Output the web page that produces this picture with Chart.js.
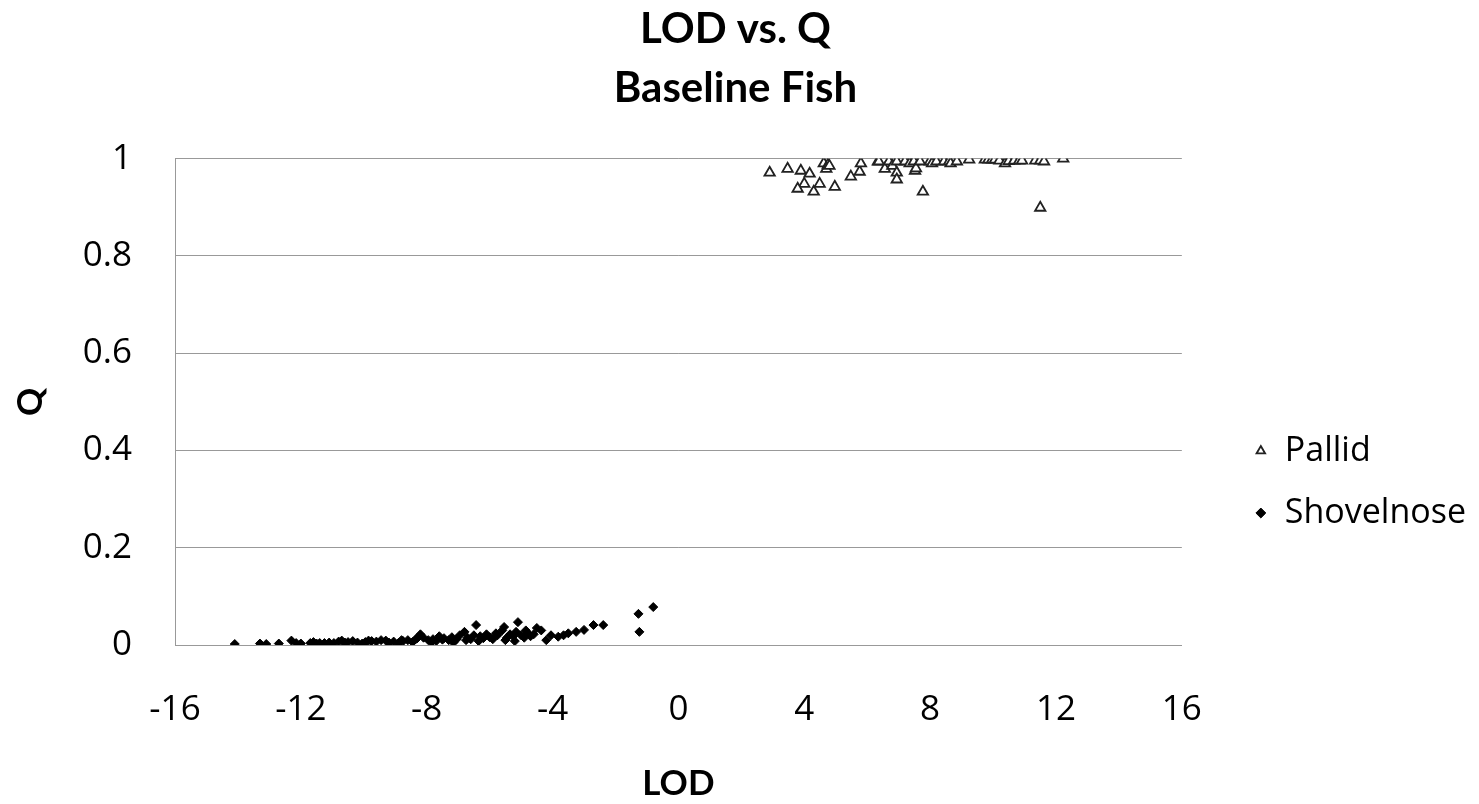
<!DOCTYPE html>
<html>
<head>
<meta charset="utf-8">
<script src="https://cdn.jsdelivr.net/npm/chart.js@4.4.0/dist/chart.umd.min.js"></script>
<style>
  html, body { margin: 0; padding: 0; background: #fff; }
  #wrap { width: 1479px; height: 804px; }
</style>
</head>
<body>
<div id="wrap"><canvas id="lodChart" width="1479" height="804"></canvas></div>
<script>
// LOD (x) vs Q (y)
const pallidPoints = [
  [2.9, 0.971], [3.47, 0.979], [3.89, 0.975], [4.17, 0.969], [4.0, 0.948], [3.79, 0.938],
  [4.3, 0.932], [4.49, 0.948], [4.62, 0.99], [4.75, 0.987], [4.7, 0.979], [4.8, 0.985],
  [4.97, 0.942], [5.48, 0.963], [5.76, 0.973], [5.8, 0.99], [6.34, 0.994], [6.37, 0.994],
  [6.56, 0.979], [6.69, 0.994], [6.8, 0.985], [6.94, 0.971], [6.94, 0.957], [6.94, 0.994],
  [7.2, 0.994], [7.35, 0.99], [7.48, 0.994], [7.52, 0.975], [7.55, 0.98], [7.68, 0.994],
  [7.77, 0.932], [7.99, 0.994], [8.06, 0.99], [8.2, 0.994], [8.44, 0.994], [8.6, 0.994],
  [8.65, 0.99], [8.85, 0.994], [9.24, 0.998], [9.74, 0.998], [9.85, 0.998], [9.97, 0.998],
  [10.06, 0.998], [10.2, 0.996], [10.38, 0.99], [10.5, 0.995], [10.67, 0.996], [10.83, 0.996],
  [10.92, 0.996], [11.34, 0.996], [11.5, 0.996], [11.62, 0.994], [11.5, 0.899], [12.23, 1.0]
];

const shovelnosePoints = [
  [-14.1, 0.002], [-13.3, 0.003], [-13.1, 0.002], [-12.7, 0.003], [-12.3, 0.009], [-12.15, 0.004],
  [-12.0, 0.003], [-11.7, 0.004], [-11.6, 0.006], [-11.5, 0.003], [-11.4, 0.004], [-11.25, 0.004],
  [-11.1, 0.005], [-10.95, 0.004], [-10.8, 0.007], [-10.7, 0.009], [-10.6, 0.005], [-10.5, 0.006],
  [-10.35, 0.008], [-10.2, 0.005], [-10.05, 0.003], [-9.95, 0.006], [-9.85, 0.009], [-9.75, 0.008],
  [-9.6, 0.007], [-9.45, 0.01], [-9.3, 0.009], [-9.2, 0.005], [-9.05, 0.007], [-8.9, 0.004],
  [-8.8, 0.01], [-8.75, 0.008], [-8.6, 0.01], [-8.45, 0.006], [-8.35, 0.012], [-8.3, 0.014],
  [-8.2, 0.022], [-8.1, 0.015], [-7.95, 0.01], [-7.85, 0.006], [-7.8, 0.012], [-7.7, 0.008],
  [-7.6, 0.018], [-7.5, 0.011], [-7.45, 0.014], [-7.3, 0.01], [-7.2, 0.016], [-7.15, 0.005],
  [-7.05, 0.012], [-6.95, 0.02], [-6.8, 0.027], [-6.75, 0.01], [-6.7, 0.015], [-6.6, 0.012],
  [-6.5, 0.02], [-6.43, 0.041], [-6.35, 0.008], [-6.3, 0.018], [-6.2, 0.014], [-6.1, 0.022],
  [-6.0, 0.016], [-5.9, 0.012], [-5.8, 0.024], [-5.75, 0.02], [-5.6, 0.03], [-5.54, 0.037],
  [-5.5, 0.01], [-5.45, 0.015], [-5.35, 0.022], [-5.25, 0.018], [-5.2, 0.008], [-5.16, 0.027],
  [-5.1, 0.047], [-5.0, 0.02], [-4.9, 0.015], [-4.85, 0.03], [-4.8, 0.025], [-4.7, 0.018],
  [-4.6, 0.022], [-4.5, 0.035], [-4.36, 0.03], [-4.2, 0.01], [-4.05, 0.02], [-3.82, 0.017],
  [-3.65, 0.02], [-3.5, 0.024], [-3.25, 0.027], [-3.0, 0.031], [-2.7, 0.041], [-2.39, 0.041],
  [-1.27, 0.064], [-1.24, 0.027], [-0.8, 0.078]
];

const xTicks = [-16, -12, -8, -4, 0, 4, 8, 12, 16];
const yTicks = [0, 0.2, 0.4, 0.6, 0.8, 1];

const TEXT_FONT = '"Open Sans", sans-serif';
const BOLD_FONT = 'Lato, "Open Sans", sans-serif';

const toXY = arr => arr.map(p => ({ x: p[0], y: p[1] }));

const ctx = document.getElementById('lodChart');
new Chart(ctx.getContext('2d'), {
  type: 'scatter',
  data: {
    datasets: [{
      label: 'Pallid',
      data: toXY(pallidPoints),
      pointStyle: 'triangle',
      pointRadius: 6,
      pointHoverRadius: 6,
      backgroundColor: '#ffffff',
      borderColor: '#222222',
      borderWidth: 1.8
    }, {
      label: 'Shovelnose',
      data: toXY(shovelnosePoints),
      pointStyle: 'rectRot',
      pointRadius: 4.5,
      pointHoverRadius: 4.5,
      backgroundColor: '#000000',
      borderColor: '#000000',
      borderWidth: 1
    }]
  },
  options: {
    responsive: false,
    animation: false,
    layout: { padding: { left: 0, right: 8, bottom: 0, top: 0 } },
    scales: {
      x: {
        type: 'linear',
        min: -16,
        max: 16,
        afterBuildTicks: s => { s.ticks = xTicks.map(v => ({ value: v })); },
        afterFit: s => { s.height = 159; },
        grid: { display: false, drawTicks: false },
        border: { display: true, color: '#999999', width: 1 },
        ticks: { color: '#000', font: { family: TEXT_FONT, size: 35 }, padding: 44 },
        title: {
          display: true, text: 'LOD', color: '#000',
          font: { family: BOLD_FONT, size: 35, weight: 'bold', lineHeight: 1 },
          padding: { top: 3, bottom: 3 }
        }
      },
      y: {
        type: 'linear',
        min: 0,
        max: 1,
        afterBuildTicks: s => { s.ticks = yTicks.map(v => ({ value: v })); },
        afterFit: s => { s.width = 175; },
        grid: { color: '#999999', lineWidth: 1, drawTicks: false },
        border: { display: true, color: '#999999', width: 1 },
        ticks: {
          color: '#000',
          font: { family: TEXT_FONT, size: 35 },
          padding: 43,
          callback: v => String(Number(v.toFixed(1)))
        },
        title: {
          display: true, text: 'Q', color: '#000',
          font: { family: BOLD_FONT, size: 35, weight: 'bold', lineHeight: 1.2 },
          padding: { top: 10, bottom: 10 }
        }
      },
      // empty right-hand spacer between plot and legend
      gap: {
        type: 'linear',
        position: 'right',
        display: true,
        grid: { display: false, drawTicks: false },
        border: { display: false },
        ticks: { display: false },
        afterFit: s => { s.width = 44; }
      }
    },
    plugins: {
      title: {
        display: true,
        text: ['LOD vs. Q', 'Baseline Fish'],
        color: '#000',
        font: { family: BOLD_FONT, size: 42, weight: 'bold', lineHeight: 1.4 },
        padding: { top: 0, bottom: 41 }
      },
      legend: {
        position: 'right',
        title: { display: true, text: ' ', font: { size: 10, lineHeight: 1 }, padding: { top: 150, bottom: 0 } },
        labels: {
          color: '#000',
          font: { family: TEXT_FONT, size: 34 },
          usePointStyle: true,
          boxWidth: 14,
          boxHeight: 7,
          padding: 28
        }
      },
      tooltip: { enabled: false }
    }
  }
});
</script>
</body>
</html>
